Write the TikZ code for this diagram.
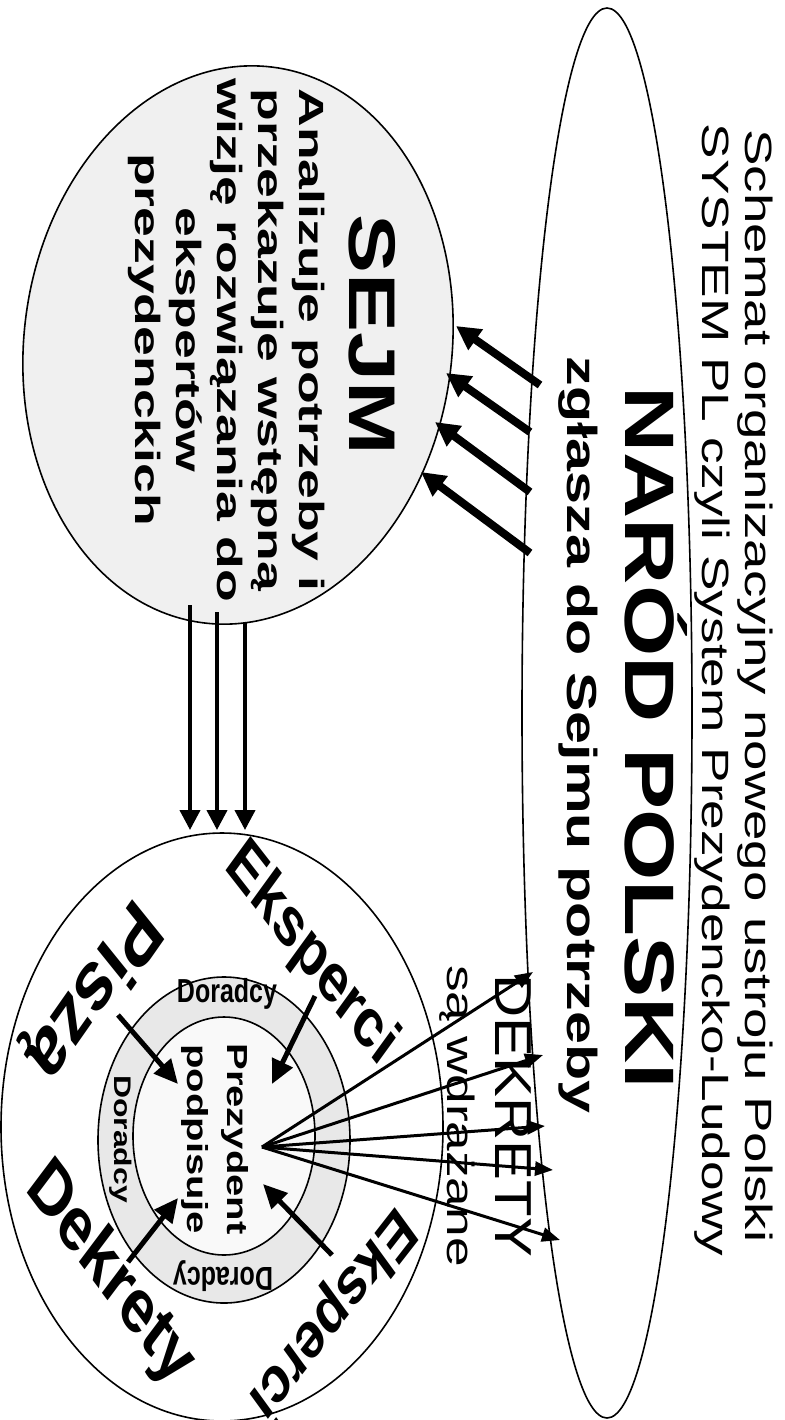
\documentclass[tikz,border=0pt]{standalone}
\usepackage{fontspec}
\setmainfont{Liberation Sans}
\usetikzlibrary{%
  arrows.meta,% Triangle tips
  shapes.geometric% ellipse
}

\begin{document}
\begin{tikzpicture}[
    x=0.5pt,y=-0.5pt,
    line join=round,
    oval/.style={ellipse,draw,line width=0.8pt,inner sep=0pt,outer sep=0pt},
    vtext/.style={rotate=-90,xscale=#1,inner sep=0pt},
    vtext/.default=1.33,
    ringword/.style={yscale=1.33,rotate=#1,inner sep=0pt},
    bigarrow/.style={line width=4pt,-{Triangle[length=12pt,width=12pt]}},
    midarrow/.style={line width=2pt,-{Triangle[length=10pt,width=10pt]}},
    inarrow/.style={line width=2.5pt,-{Triangle[length=12pt,width=11pt]}},
    fanarrow/.style={line width=1.5pt,-{Triangle[length=9pt,width=7pt]}}
  ]
    \useasboundingbox (0,0) rectangle (785,1420);

    % ellipses
    \node[oval,minimum width=85pt,minimum height=705pt] (narod) at (607,713) {};
    \node[oval,fill=gray!12,rotate=-7,minimum width=214pt,minimum height=280pt] (sejm) at (238,345) {};
    \node[oval,minimum width=221pt,minimum height=294pt] (outer) at (222,1127) {};
    \node[oval,fill=gray!18,minimum width=126pt,minimum height=163pt] (ring) at (224,1140) {};
    \node[oval,fill=gray!5,minimum width=91pt,minimum height=119pt] (inner) at (224,1136) {};

    % texts
    \node[vtext=1.44,anchor=base,font=\fontsize{19}{21}\selectfont] (title) at (745,686)
        {Schemat organizacyjny nowego ustroju Polski};
    \node[vtext=1.40,anchor=base,font=\fontsize{19}{21}\selectfont] (subtitle) at (702,690)
        {SYSTEM PL czyli System Prezydencko-Ludowy};
    \node[vtext=1.31,anchor=base,font=\bfseries\fontsize{35}{40}\selectfont] (narodname) at (625,738)
        {NARÓD POLSKI};
    \node[vtext=1.41,anchor=base,font=\bfseries\fontsize{21}{24}\selectfont] (zglasza) at (567,735)
        {zgłasza do Sejmu potrzeby};
    \node[vtext=1.34,anchor=base,font=\bfseries\fontsize{33}{38}\selectfont] (sejmname) at (349,335) {SEJM};
    \node[vtext=1.53,align=center,font=\bfseries\fontsize{17.5}{20.5}\selectfont] (sejmbody) at (227,340)
        {Analizuje potrzeby i\\przekazuje wstępną\\wizję rozwiązania do\\ekspertów\\prezydenckich};
    \node[vtext=1.38,align=center,font=\bfseries\fontsize{14.5}{20}\selectfont] (prez) at (215,1139)
        {Prezydent\\podpisuje};

    \node[yscale=1.33,inner sep=0pt,font=\bfseries\fontsize{12.5}{14}\selectfont] (dor1) at (227,994) {Doradcy};
    \node[vtext,font=\bfseries\fontsize{12}{14}\selectfont] (dor2) at (121,1139) {Doradcy};
    \node[ringword=180,font=\bfseries\fontsize{12.5}{14}\selectfont] (dor3) at (223,1276) {Doradcy};

    \node[ringword=-44,font=\bfseries\fontsize{26}{30}\selectfont] (eksp1) at (311,955) {Eksperci};
    \node[ringword=227,font=\bfseries\fontsize{32}{36}\selectfont] (pisza) at (92,990) {Piszą};
    \node[ringword=-45,font=\bfseries\fontsize{29}{32}\selectfont] (dekr) at (110,1275) {Dekrety};
    \node[ringword=224,font=\bfseries\fontsize{25}{30}\selectfont] (eksp2) at (331,1313) {Eksperci};

    \node[vtext=1.15,anchor=base,font=\fontsize{26}{30}\selectfont] (dekrtxt) at (495,1116) {DEKRETY};
    \node[vtext=1.4,anchor=base,font=\fontsize{19}{22}\selectfont] (wdraz) at (447,1116) {są wdrażane};

    % NAROD -> SEJM
    \foreach \i/\xa/\ya/\xb/\yb in {1/540/385/456/326,2/530/432/446/373,
                                    3/530/492/435/422,4/530/553/421/472} {
      \coordinate (n\i) at (\xa,\ya);
      \coordinate (s\i) at (\xb,\yb);
      \draw[bigarrow] (n\i) -- (s\i);
    }

    % SEJM -> eksperci
    \foreach \i/\xa/\ya in {1/190/605,2/217/612,3/245/622} {
      \coordinate (d\i) at (\xa,\ya);
      \coordinate (e\i) at (\xa,830);
      \draw[midarrow] (d\i) -- (e\i);
    }

    % into the president
    \foreach \i/\xa/\ya/\xb/\yb in {1/315/996/272/1084,2/118/1015/178/1084,
                                    3/128/1262/178/1198,4/332/1255/263/1184} {
      \coordinate (a\i) at (\xa,\ya);
      \coordinate (b\i) at (\xb,\yb);
      \draw[inarrow] (a\i) -- (b\i);
    }

    % decrees out to the nation
    \coordinate (podpis) at (262,1147);
    \foreach \i/\xa/\ya in {1/533/972,2/543/1055,3/545/1126,4/553/1170,5/560/1240} {
      \coordinate (w\i) at (\xa,\ya);
      \draw[fanarrow] (podpis) -- (w\i);
    }
\end{tikzpicture}
\end{document}
